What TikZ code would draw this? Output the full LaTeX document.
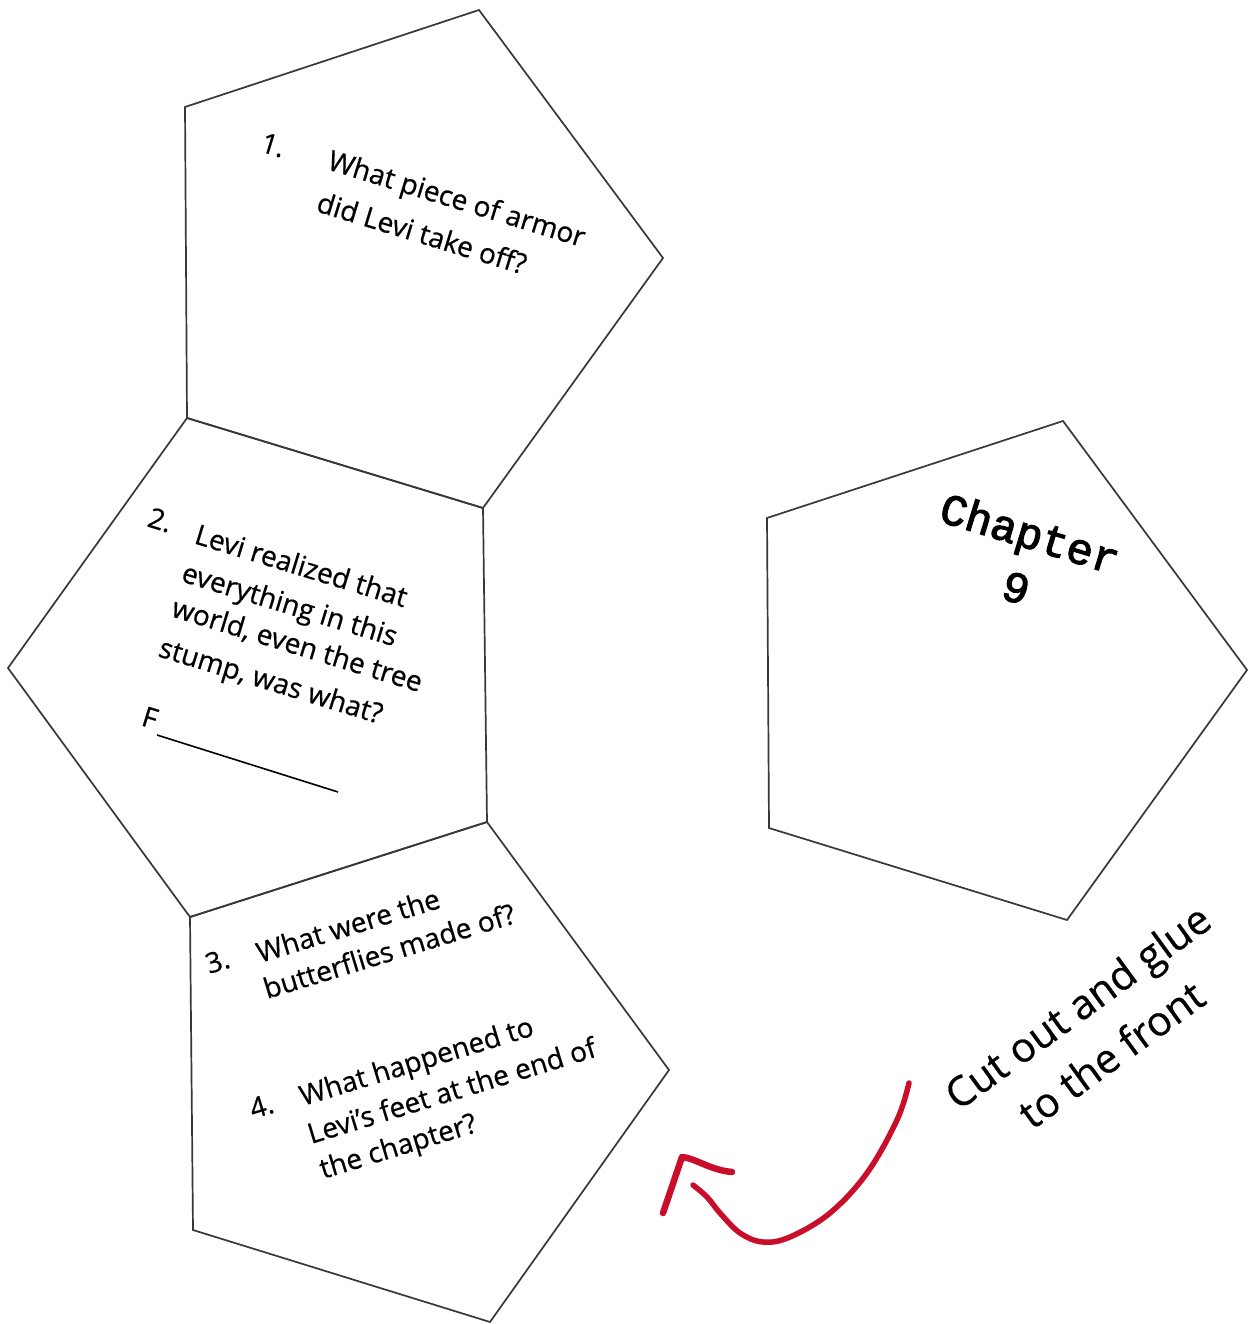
\documentclass[tikz,border=0pt]{standalone}
\usepackage{fontspec}
\setmainfont{Open Sans}[FakeBold=0.6]
\newfontfamily\chapfont{Liberation Mono}[FakeBold=2.5]
\begin{document}
\begin{tikzpicture}[x=1pt,y=-1pt,
  edge/.style={draw=black!78, line width=1.7pt, line join=miter},
  qtext/.style={font=\fontsize{28}{34}\selectfont, inner sep=0pt, anchor=base west},
  qa/.style={qtext, rotate=-17},
  qb/.style={qtext, rotate=17},
  chap/.style={font=\chapfont\fontsize{44}{50}\selectfont, inner sep=0pt, rotate=-17},
  cut/.style={font=\fontsize{41}{50}\selectfont, inner sep=0pt, rotate=36},
  redpen/.style={draw={rgb,255:red,200;green,14;blue,42}, line width=5.5pt, line cap=round, line join=round}
]
\useasboundingbox (0,0) rectangle (1257,1324);
\fill[white] (0,0) rectangle (1257,1324);

% pentagon 1
\coordinate (a1) at (185,107);
\coordinate (a2) at (479,10);
\coordinate (a3) at (663,258);
\coordinate (a4) at (483,508);
\coordinate (a5) at (187,418);
% pentagon 2
\coordinate (b3) at (487,822);
\coordinate (b4) at (190,917);
\coordinate (b5) at (8,668);
% pentagon 3
\coordinate (c3) at (669,1070);
\coordinate (c4) at (490,1322);
\coordinate (c5) at (193,1230);
% pentagon 4
\coordinate (d1) at (767,518);
\coordinate (d2) at (1063,421);
\coordinate (d3) at (1247,670);
\coordinate (d4) at (1067,920);
\coordinate (d5) at (769,828);

\draw[edge] (a1) -- (a2) -- (a3) -- (a4) -- (a5) -- cycle;
\draw[edge] (a5) -- (a4) -- (b3) -- (b4) -- (b5) -- cycle;
\draw[edge] (b4) -- (b3) -- (c3) -- (c4) -- (c5) -- cycle;
\draw[edge] (d1) -- (d2) -- (d3) -- (d4) -- (d5) -- cycle;

% pentagon 1 text
\node[qa] (n1) at (259,151) {1.};
\node[qa] (q1a) at (326,169) {What piece of armor};
\node[qa] (q1b) at (315,211) {did Levi take off?};

% pentagon 2 text
\node[qa] (n2) at (146,526) {2.};
\node[qa] (q2a) at (193,543) {Levi realized that};
\node[qa] (q2b) at (180,581) {everything in this};
\node[qa] (q2c) at (170,616) {world, even the tree};
\node[qa] (q2d) at (157,656) {stump, was what?};
\node[qa] (q2f) at (140,725) {F};
\coordinate (ls) at (157,735);
\coordinate (le) at (338,792);
\draw[black, line width=1.6pt] (ls) -- (le);

% pentagon 3 text
\node[qb] (n3) at (209,974) {3.};
\node[qb] (q3a) at (260,963) {What were the};
\node[qb] (q3b) at (267,999) {butterflies made of?};
\node[qb] (n4) at (253,1119) {4.};
\node[qb] (q4a) at (303,1106) {What happened to};
\node[qb] (q4b) at (311,1144) {Levi’s feet at the end of};
\node[qb] (q4c) at (323,1179) {the chapter?};

% chapter
\node[chap] (ch) at (1029,537) {Chapter};
\node[chap] (ch9) at (1016,588) {9};

% cut out text
\node[cut] (cta) at (1080,1010) {Cut out and glue};
\node[cut] (ctb) at (1111,1054) {to the front};

% red arrow
\draw[redpen] plot[smooth, tension=0.6] coordinates {(909,1083) (897,1120) (867,1173) (830,1213) (790,1237) (763,1242) (740,1233) (720,1213) (707,1197) (693,1185)};
\draw[redpen, line width=6.5pt] (663,1213) -- (682,1157) .. controls (695,1158) and (710,1170) .. (732,1172);
\end{tikzpicture}
\end{document}
